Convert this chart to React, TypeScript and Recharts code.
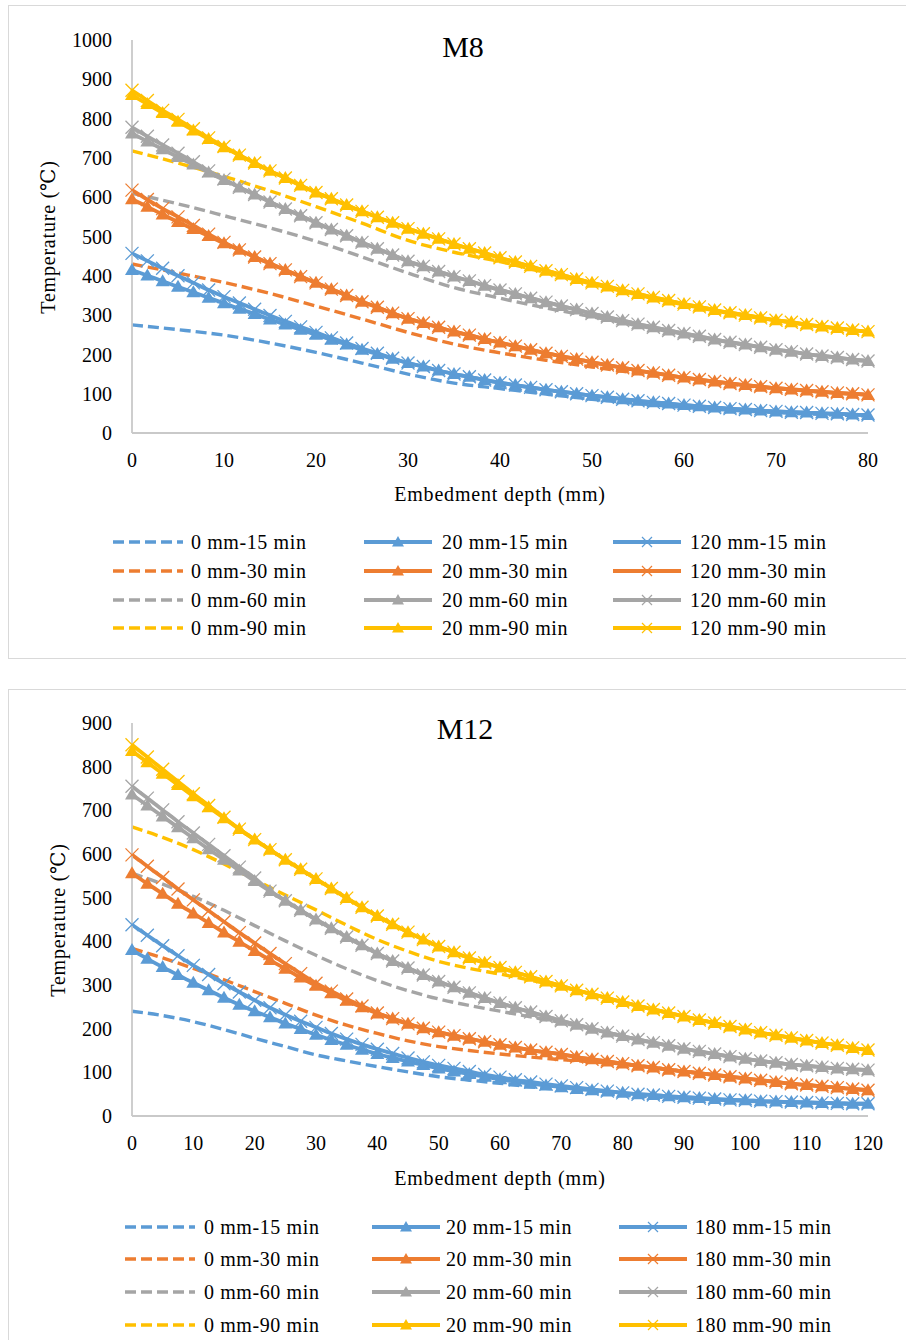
import React from 'react';
import { LineChart, Line, XAxis, YAxis } from 'recharts';

const FONT = '"Liberation Serif", "Times New Roman", "DejaVu Serif", serif';
const BLUE = '#5B9BD5';
const ORANGE = '#ED7D31';
const GRAY = '#A5A5A5';
const GOLD = '#FFC000';
const AXIS = '#C9C9C9';

const timeLabels = ['15 min', '30 min', '60 min', '90 min'];
const timeColors = [BLUE, ORANGE, GRAY, GOLD];

// ---------------- M8 ----------------
const m8Depth = [0, 1.67, 3.33, 5, 6.67, 8.33, 10, 11.67, 13.33, 15, 16.67, 18.33, 20, 21.67, 23.33, 25, 26.67, 28.33, 30, 31.67, 33.33, 35, 36.67, 38.33, 40, 41.67, 43.33, 45, 46.67, 48.33, 50, 51.67, 53.33, 55, 56.67, 58.33, 60, 61.67, 63.33, 65, 66.67, 68.33, 70, 71.67, 73.33, 75, 76.67, 78.33, 80];
const m8DashDepth = [0, 5, 10, 15, 20, 25, 30, 35, 40, 45, 50, 55, 60, 65, 70, 75, 80];
const m8XTicks = [0, 10, 20, 30, 40, 50, 60, 70, 80];
const m8YTicks = [0, 100, 200, 300, 400, 500, 600, 700, 800, 900, 1000];

const m8_0mm_15 = [275, 263, 249, 229, 205, 178, 150, 127, 113, 99, 86, 75, 65, 58, 52, 47, 43];
const m8_0mm_30 = [430, 407, 383, 355, 323, 290, 256, 226, 204, 185, 168, 152, 137, 124, 113, 104, 97];
const m8_0mm_60 = [610, 583, 553, 522, 488, 448, 407, 370, 343, 318, 296, 273, 251, 230, 212, 196, 183];
const m8_0mm_90 = [718, 687, 653, 616, 576, 534, 490, 460, 436, 408, 379, 351, 326, 304, 286, 270, 257];

const m8_20mm_15 = [415, 401, 386, 372, 358, 344, 330, 316, 303, 289, 276, 263, 250, 237, 225, 212, 201, 189, 178, 169, 159, 150, 143, 135, 128, 122, 116, 110, 105, 100, 95, 91, 86, 82, 78, 75, 71, 68, 65, 62, 60, 57, 55, 53, 52, 50, 49, 47, 46];
const m8_20mm_30 = [595, 576, 556, 537, 519, 501, 483, 466, 448, 431, 415, 398, 382, 366, 350, 334, 320, 305, 291, 280, 269, 258, 249, 239, 230, 221, 212, 203, 195, 188, 180, 173, 166, 159, 153, 147, 141, 136, 131, 126, 122, 118, 114, 111, 108, 105, 102, 100, 97];
const m8_20mm_60 = [762, 742, 722, 702, 683, 663, 644, 625, 607, 588, 570, 553, 535, 518, 502, 485, 469, 453, 437, 424, 411, 398, 387, 375, 364, 354, 343, 333, 323, 314, 304, 295, 286, 277, 269, 261, 253, 246, 238, 231, 225, 218, 212, 207, 201, 196, 192, 187, 183];
const m8_20mm_90 = [860, 837, 814, 792, 770, 748, 727, 707, 687, 667, 649, 630, 612, 596, 580, 564, 549, 535, 520, 507, 494, 481, 469, 458, 446, 435, 424, 413, 403, 392, 382, 373, 363, 354, 345, 337, 328, 321, 313, 306, 300, 293, 287, 282, 276, 271, 267, 262, 258];

const m8_120mm_15 = [457, 438, 419, 400, 382, 364, 347, 331, 315, 299, 284, 270, 256, 242, 229, 215, 203, 190, 178, 169, 159, 150, 143, 135, 128, 122, 116, 110, 105, 100, 95, 91, 86, 82, 78, 75, 71, 68, 65, 62, 60, 57, 55, 53, 52, 50, 49, 47, 46];
const m8_120mm_30 = [618, 594, 571, 550, 528, 506, 485, 466, 448, 431, 415, 398, 382, 366, 350, 334, 320, 305, 291, 280, 269, 258, 249, 239, 230, 221, 212, 203, 195, 188, 180, 173, 166, 159, 153, 147, 141, 136, 131, 126, 122, 118, 114, 111, 108, 105, 102, 100, 97];
const m8_120mm_60 = [778, 755, 733, 712, 690, 667, 646, 625, 607, 588, 570, 553, 535, 518, 502, 485, 469, 453, 437, 424, 411, 398, 387, 375, 364, 354, 343, 333, 323, 314, 304, 295, 286, 277, 269, 261, 253, 246, 238, 231, 225, 218, 212, 207, 201, 196, 192, 187, 183];
const m8_120mm_90 = [872, 846, 821, 798, 774, 751, 729, 707, 687, 667, 649, 630, 612, 596, 580, 564, 549, 535, 520, 507, 494, 481, 469, 458, 446, 435, 424, 413, 403, 392, 382, 373, 363, 354, 345, 337, 328, 321, 313, 306, 300, 293, 287, 282, 276, 271, 267, 262, 258];

// ---------------- M12 ----------------
const m12Depth = [0, 2.5, 5, 7.5, 10, 12.5, 15, 17.5, 20, 22.5, 25, 27.5, 30, 32.5, 35, 37.5, 40, 42.5, 45, 47.5, 50, 52.5, 55, 57.5, 60, 62.5, 65, 67.5, 70, 72.5, 75, 77.5, 80, 82.5, 85, 87.5, 90, 92.5, 95, 97.5, 100, 102.5, 105, 107.5, 110, 112.5, 115, 117.5, 120];
const m12DashDepth = [0, 5, 10, 15, 20, 25, 30, 35, 40, 45, 50, 55, 60, 65, 70, 75, 80, 85, 90, 95, 100, 105, 110, 115, 120];
const m12XTicks = [0, 10, 20, 30, 40, 50, 60, 70, 80, 90, 100, 110, 120];
const m12YTicks = [0, 100, 200, 300, 400, 500, 600, 700, 800, 900];

const m12_0mm_15 = [240, 230, 216, 198, 178, 159, 140, 126, 113, 101, 90, 82, 75, 67, 60, 54, 48, 44, 40, 37, 34, 32, 30, 29, 28];
const m12_0mm_30 = [384, 362, 338, 312, 285, 258, 231, 208, 189, 172, 159, 150, 142, 135, 129, 124, 119, 111, 102, 94, 86, 78, 71, 65, 59];
const m12_0mm_60 = [556, 531, 503, 471, 436, 401, 368, 337, 310, 287, 268, 253, 240, 227, 214, 198, 183, 168, 154, 142, 131, 122, 115, 109, 105];
const m12_0mm_90 = [662, 638, 610, 577, 541, 506, 472, 437, 404, 377, 354, 338, 325, 311, 296, 279, 261, 244, 228, 213, 198, 185, 173, 162, 151];

const m12_20mm_15 = [380, 360, 341, 323, 305, 288, 271, 255, 240, 226, 212, 199, 186, 174, 163, 152, 142, 133, 125, 117, 109, 102, 96, 90, 84, 79, 74, 70, 66, 62, 59, 56, 53, 50, 48, 45, 43, 41, 39, 37, 36, 34, 33, 32, 31, 30, 29, 28, 28];
const m12_20mm_30 = [556, 532, 509, 486, 464, 442, 420, 399, 378, 357, 337, 317, 298, 281, 264, 249, 235, 223, 211, 201, 192, 184, 177, 170, 163, 157, 151, 146, 141, 135, 130, 125, 120, 115, 111, 106, 102, 98, 94, 90, 86, 82, 78, 74, 71, 68, 65, 62, 59];
const m12_20mm_60 = [736, 711, 686, 661, 636, 611, 587, 562, 538, 515, 493, 471, 450, 430, 410, 391, 372, 355, 339, 323, 308, 295, 282, 270, 259, 248, 238, 228, 218, 209, 200, 191, 183, 175, 168, 161, 154, 148, 142, 136, 131, 126, 122, 118, 115, 112, 109, 107, 105];
const m12_20mm_90 = [836, 810, 784, 758, 732, 707, 682, 657, 633, 610, 587, 565, 543, 521, 499, 478, 458, 439, 421, 404, 388, 375, 362, 351, 340, 329, 319, 308, 298, 288, 279, 270, 261, 252, 244, 236, 228, 220, 213, 205, 198, 191, 185, 179, 173, 167, 162, 156, 151];

const m12_180mm_15 = [438, 414, 390, 367, 345, 324, 303, 284, 265, 248, 232, 217, 203, 189, 176, 164, 153, 143, 133, 124, 116, 109, 102, 95, 89, 83, 78, 73, 69, 65, 61, 57, 53, 50, 48, 45, 43, 41, 39, 37, 36, 34, 33, 32, 31, 30, 29, 28, 28];
const m12_180mm_30 = [598, 572, 546, 520, 495, 470, 445, 420, 396, 372, 349, 326, 304, 286, 268, 252, 236, 223, 211, 201, 192, 184, 177, 170, 163, 157, 151, 146, 141, 135, 130, 125, 120, 115, 111, 106, 102, 98, 94, 90, 86, 82, 78, 74, 71, 68, 65, 62, 59];
const m12_180mm_60 = [755, 728, 701, 674, 648, 622, 596, 570, 545, 515, 493, 471, 450, 430, 410, 391, 372, 355, 339, 323, 308, 295, 282, 270, 259, 248, 238, 228, 218, 209, 200, 191, 183, 175, 168, 161, 154, 148, 142, 136, 131, 126, 122, 118, 115, 112, 109, 107, 105];
const m12_180mm_90 = [850, 822, 794, 766, 738, 711, 684, 657, 633, 610, 587, 565, 543, 521, 499, 478, 458, 439, 421, 404, 388, 375, 362, 351, 340, 329, 319, 308, 298, 288, 279, 270, 261, 252, 244, 236, 228, 220, 213, 205, 198, 191, 185, 179, 173, 167, 162, 156, 151];

// ---------------- helpers ----------------
function buildRows(depth: number[], groups: Record<string, number[][]>) {
  return depth.map((d, i) => {
    const row: Record<string, number> = { d };
    Object.keys(groups).forEach((g) => {
      groups[g].forEach((arr, k) => {
        row[`${g}${k}`] = arr[i];
      });
    });
    return row;
  });
}

const TriDot = (color: string) => (props: any) => {
  const { cx, cy, index } = props;
  if (cx == null || cy == null) return <g key={`t-${index}`} />;
  return (
    <path
      key={`t-${index}`}
      d={`M${cx},${cy - 7} L${cx + 7},${cy + 5} L${cx - 7},${cy + 5} Z`}
      fill={color}
      stroke="none"
    />
  );
};

const CrossDot = (color: string) => (props: any) => {
  const { cx, cy, index } = props;
  if (cx == null || cy == null) return <g key={`x-${index}`} />;
  const s = 6.5;
  return (
    <path
      key={`x-${index}`}
      d={`M${cx - s},${cy - s} L${cx + s},${cy + s} M${cx - s},${cy + s} L${cx + s},${cy - s}`}
      stroke={color}
      strokeWidth={1.3}
      fill="none"
    />
  );
};

type Spec = {
  title: string;
  deepLabel: string;
  depth: number[];
  dashDepth: number[];
  xTicks: number[];
  yTicks: number[];
  xMax: number;
  yMax: number;
  dash: number[][];
  tri: number[][];
  cross: number[][];
  chartTop: number;
  marginTop: number;
  marginBottom: number;
  titlePos: [number, number];
  xTitleY: number;
  yTitlePos: [number, number];
  legendRows: number[];
  legendLineX: number[];
  legendTextX: number[];
  legendLineLen: number;
};

const specs: Spec[] = [
  {
    title: 'M8',
    deepLabel: '120 mm',
    depth: m8Depth,
    dashDepth: m8DashDepth,
    xTicks: m8XTicks,
    yTicks: m8YTicks,
    xMax: 80,
    yMax: 1000,
    dash: [m8_0mm_15, m8_0mm_30, m8_0mm_60, m8_0mm_90],
    tri: [m8_20mm_15, m8_20mm_30, m8_20mm_60, m8_20mm_90],
    cross: [m8_120mm_15, m8_120mm_30, m8_120mm_60, m8_120mm_90],
    chartTop: 0,
    marginTop: 40,
    marginBottom: 27,
    titlePos: [463, 47],
    xTitleY: 494,
    yTitlePos: [48, 237],
    legendRows: [542, 571, 600, 628],
    legendLineX: [113, 364, 613],
    legendTextX: [191, 442, 690],
    legendLineLen: 68,
  },
  {
    title: 'M12',
    deepLabel: '180 mm',
    depth: m12Depth,
    dashDepth: m12DashDepth,
    xTicks: m12XTicks,
    yTicks: m12YTicks,
    xMax: 120,
    yMax: 900,
    dash: [m12_0mm_15, m12_0mm_30, m12_0mm_60, m12_0mm_90],
    tri: [m12_20mm_15, m12_20mm_30, m12_20mm_60, m12_20mm_90],
    cross: [m12_180mm_15, m12_180mm_30, m12_180mm_60, m12_180mm_90],
    chartTop: 680,
    marginTop: 43,
    marginBottom: 24,
    titlePos: [465, 729],
    xTitleY: 1178,
    yTitlePos: [58, 920],
    legendRows: [1227, 1259, 1292, 1325],
    legendLineX: [125, 372, 619],
    legendTextX: [204, 446, 695],
    legendLineLen: 68,
  },
];

const textStyle: React.CSSProperties = {
  position: 'absolute',
  fontFamily: FONT,
  color: '#000',
  whiteSpace: 'nowrap',
  lineHeight: 1,
};

function LegendSample({ kind, color, len }: { kind: 'dash' | 'tri' | 'cross'; color: string; len: number }) {
  const h = 16;
  const m = len / 2;
  return (
    <svg width={len + 4} height={h} style={{ display: 'block', overflow: 'visible' }}>
      {kind === 'dash' ? (
        <line x1={0} y1={h / 2} x2={len + 2} y2={h / 2} stroke={color} strokeWidth={3.4} strokeDasharray="11 5" />
      ) : (
        <line x1={0} y1={h / 2} x2={len} y2={h / 2} stroke={color} strokeWidth={3.8} />
      )}
      {kind === 'tri' && (
        <path d={`M${m},${h / 2 - 6} L${m + 6},${h / 2 + 4.5} L${m - 6},${h / 2 + 4.5} Z`} fill={color} />
      )}
      {kind === 'cross' && (
        <path
          d={`M${m - 5},${h / 2 - 5} L${m + 5},${h / 2 + 5} M${m - 5},${h / 2 + 5} L${m + 5},${h / 2 - 5}`}
          stroke={color}
          strokeWidth={1.2}
          fill="none"
        />
      )}
    </svg>
  );
}

function Panel({ spec }: { spec: Spec }) {
  const rows = buildRows(spec.depth, { tri: spec.tri, x: spec.cross });
  const dashRows = buildRows(spec.dashDepth, { dash: spec.dash });
  const legendCols: { kind: 'dash' | 'tri' | 'cross'; prefix: string }[] = [
    { kind: 'dash', prefix: '0 mm' },
    { kind: 'tri', prefix: '20 mm' },
    { kind: 'cross', prefix: spec.deepLabel },
  ];
  const tickStyle = { fill: '#000', fontSize: 20, fontFamily: FONT };
  return (
    <>
      <div style={{ position: 'absolute', left: 0, top: spec.chartTop }}>
        <LineChart
          width={906}
          height={490}
          data={rows}
          margin={{ top: spec.marginTop, right: 38, bottom: spec.marginBottom, left: 72 }}
        >
          <XAxis
            type="number"
            dataKey="d"
            domain={[0, spec.xMax]}
            ticks={spec.xTicks}
            interval={0}
            tickLine={false}
            tickSize={0}
            tickMargin={20}
            height={30}
            axisLine={{ stroke: AXIS, strokeWidth: 1.8 }}
            tick={tickStyle}
          />
          <YAxis
            type="number"
            domain={[0, spec.yMax]}
            ticks={spec.yTicks}
            interval={0}
            tickLine={false}
            tickSize={0}
            tickMargin={20}
            width={60}
            axisLine={{ stroke: AXIS, strokeWidth: 1.8 }}
            tick={tickStyle}
          />
          {spec.dash.map((_, k) => (
            <Line
              key={`dash${k}`}
              data={dashRows}
              dataKey={`dash${k}`}
              type="monotone"
              stroke={timeColors[k]}
              strokeWidth={3.4}
              strokeDasharray="11 5"
              dot={false}
              activeDot={false}
              isAnimationActive={false}
            />
          ))}
          {spec.tri.map((_, k) => (
            <Line
              key={`tri${k}`}
              dataKey={`tri${k}`}
              type="monotone"
              stroke={timeColors[k]}
              strokeWidth={3.8}
              dot={TriDot(timeColors[k])}
              activeDot={false}
              isAnimationActive={false}
            />
          ))}
          {spec.cross.map((_, k) => (
            <Line
              key={`x${k}`}
              dataKey={`x${k}`}
              type="monotone"
              stroke={timeColors[k]}
              strokeWidth={3.8}
              dot={CrossDot(timeColors[k])}
              activeDot={false}
              isAnimationActive={false}
            />
          ))}
        </LineChart>
      </div>
      <div style={{ ...textStyle, left: spec.titlePos[0], top: spec.titlePos[1], fontSize: 30, transform: 'translate(-50%, -50%)' }}>
        {spec.title}
      </div>
      <div style={{ ...textStyle, left: 500, top: spec.xTitleY, fontSize: 20, letterSpacing: 0.8, transform: 'translate(-50%, -50%)' }}>
        Embedment depth (mm)
      </div>
      <div
        style={{
          ...textStyle,
          left: spec.yTitlePos[0],
          top: spec.yTitlePos[1],
          fontSize: 20,
          letterSpacing: 0.8,
          transform: 'translate(-50%, -50%) rotate(-90deg)',
        }}
      >
        Temperature (℃)
      </div>
      {legendCols.map((col, c) =>
        timeLabels.map((t, r) => (
          <React.Fragment key={`lg-${c}-${r}`}>
            <div style={{ position: 'absolute', left: spec.legendLineX[c], top: spec.legendRows[r] - 8 }}>
              <LegendSample kind={col.kind} color={timeColors[r]} len={spec.legendLineLen} />
            </div>
            <div
              style={{
                ...textStyle,
                left: spec.legendTextX[c],
                top: spec.legendRows[r],
                fontSize: 20,
                letterSpacing: 0.6,
                transform: 'translateY(-50%)',
              }}
            >
              {`${col.prefix}-${t}`}
            </div>
          </React.Fragment>
        ))
      )}
    </>
  );
}

export default function App() {
  return (
    <div
      style={{
        position: 'absolute',
        left: 0,
        top: 0,
        width: 906,
        height: 1340,
        overflow: 'hidden',
        background: '#ffffff',
        fontFamily: FONT,
      }}
    >
      <div style={{ position: 'absolute', left: 8, top: 5, width: 910, height: 654, border: '1.5px solid #D9D9D9', boxSizing: 'border-box' }} />
      <div style={{ position: 'absolute', left: 8, top: 689, width: 910, height: 700, border: '1.5px solid #D9D9D9', boxSizing: 'border-box' }} />
      {specs.map((s) => (
        <Panel key={s.title} spec={s} />
      ))}
    </div>
  );
}
